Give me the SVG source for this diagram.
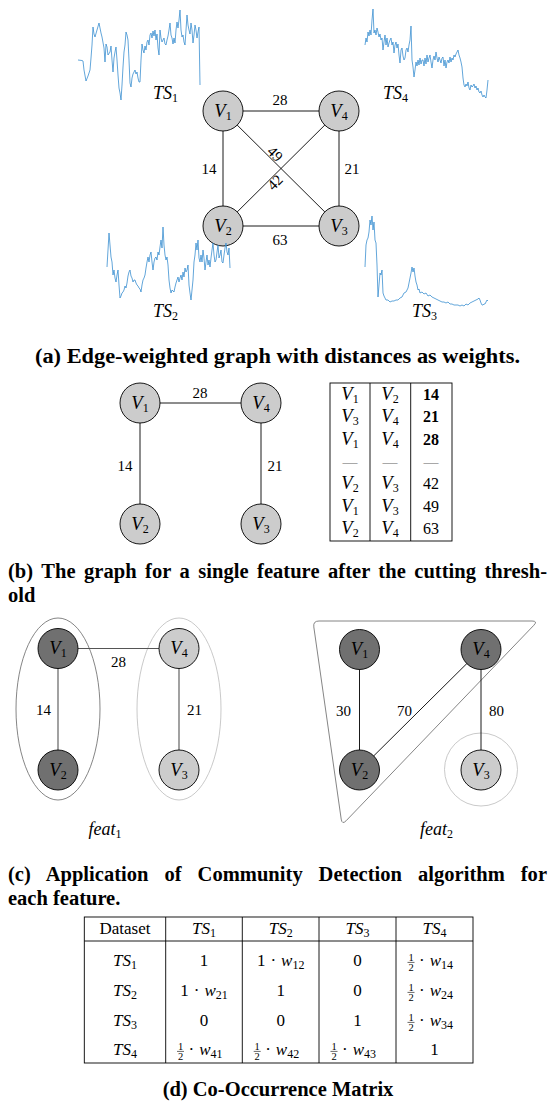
<svg xmlns="http://www.w3.org/2000/svg" width="553" height="1103" viewBox="0 0 553 1103">
<style>
.bg{fill:#fff}
.edge{stroke:#000;stroke-width:0.9;fill:none}
.gedge{stroke:#555;stroke-width:1.1;fill:none}
.node{fill:#ccc;stroke:#000;stroke-width:0.9}
.dark{fill:#707070}
.num{font-family:"Liberation Serif",serif;font-size:15px;fill:#000;text-anchor:middle}
.vl{font-family:"Liberation Serif",serif;font-size:18.5px;fill:#000;text-anchor:middle}
.it{font-style:italic}
.sub{font-size:12px;font-style:normal}
.ts{fill:none;stroke:#3b8fd0;stroke-width:0.8;stroke-linejoin:round}
.cap{font-family:"Liberation Serif",serif;font-weight:bold;font-size:20.5px;fill:#000}
.tl{stroke:#000;stroke-width:0.9;fill:none}
.td{font-family:"Liberation Serif",serif;font-size:17px;fill:#000;text-anchor:middle}
.tds{text-anchor:start}
.sb{font-size:12px;font-style:normal}
.fr{font-family:"Liberation Serif",serif;font-size:10.5px;fill:#000;text-anchor:middle}
.fl{stroke:#000;stroke-width:0.6}
.ts-lbl{font-family:"Liberation Serif",serif;font-size:18px;fill:#000;text-anchor:middle}
</style>
<rect class="bg" x="0" y="0" width="553" height="1103"/>

<!-- ===== (a) ===== -->
<g id="a-connectors">
<line class="edge" x1="223" y1="111" x2="339" y2="111"/>
<line class="edge" x1="223" y1="111" x2="223" y2="226"/>
<line class="edge" x1="339" y1="111" x2="339" y2="226"/>
<line class="edge" x1="223" y1="226" x2="339" y2="226"/>
<line class="edge" x1="223" y1="111" x2="339" y2="226"/>
<line class="edge" x1="223" y1="226" x2="339" y2="111"/>
<text class="num" x="280" y="105">28</text>
<text class="num" x="209" y="174">14</text>
<text class="num" x="352" y="174">21</text>
<text class="num" x="280" y="245">63</text>
<text class="num" transform="translate(275,154) rotate(45)" x="0" y="5">49</text>
<text class="num" transform="translate(275,182.5) rotate(-45)" x="0" y="5">42</text>
</g>
<g id="a-v1"><circle class="node" cx="223" cy="111" r="20"/><text class="vl" x="223" y="116.5"><tspan class="it">V</tspan><tspan class="sub" dy="3">1</tspan></text></g>
<g id="a-v4"><circle class="node" cx="339" cy="111" r="20"/><text class="vl" x="339" y="116.5"><tspan class="it">V</tspan><tspan class="sub" dy="3">4</tspan></text></g>
<g id="a-v2"><circle class="node" cx="223" cy="226" r="20"/><text class="vl" x="223" y="231.5"><tspan class="it">V</tspan><tspan class="sub" dy="3">2</tspan></text></g>
<g id="a-v3"><circle class="node" cx="339" cy="226" r="20"/><text class="vl" x="339" y="231.5"><tspan class="it">V</tspan><tspan class="sub" dy="3">3</tspan></text></g>

<g id="ts1">
<polyline class="ts" points="78,60 82,60.5 83,61 84,70 86,81 88,76 90,70 91,58 92,45 93,27 94,34 95,37 97,30 99,23 100,28 101,33 102,37 104,48 105,62 106,44 107,47 108,55 110,52 111,46 112,60 113,72 114,58 115,52 116,47 117,60 118,75 119,88 120,93 121,100 122,85 123,67 124,52 125,45 126,32 127,35 128,40 129,60 130,83 131,87 132,78 133,74 134,72 135,70 136,74 137,72 138,78 139,82 140,82 141,60 142,44 143,50 144,53 145,46 146,50 147,42 148,40 149,45 150,35 151,33 152,38 153,31 154,36 155,30 156,40 157,34 158,48 159,55 160,30 161,38 162,42 163,40 164,38 165,44 166,45 167,40 168,36 169,30 170,23 171,35 172,38 173,44 174,38 175,43 176,30 177,22 178,28 179,20 180,10 181,30 182,37 183,35 184,42 185,45 186,30 187,15 188,25 189,30 190,34 191,23 192,30 193,43 194,35 195,25 196,30 197,38 198,32 199,27 200,85"/>
<text class="ts-lbl" x="165.5" y="99"><tspan class="it">TS</tspan><tspan class="sub" dy="3">1</tspan></text>
</g>
<g id="ts4">
<polyline class="ts" points="365,45 366,38 367,42 368,32 369,36 370,30 371,35 372,20 373,9 374,33 375,30 376,35 377,28 378,32 379,37 380,34 381,40 382,38 383,50 384,42 385,35 386,45 387,38 388,47 389,43 390,40 391,38 392,45 393,42 394,53 395,45 396,42 397,48 398,44 399,55 400,63 401,50 402,48 403,56 404,60 405,58 406,50 407,48 408,52 409,45 410,40 411,26 412,60 413,67 414,77 415,70 416,62 417,66 418,60 419,65 420,58 421,64 422,60 423,60 424,66 425,58 426,64 427,55 428,62 429,58 430,55 431,62 432,68 433,60 434,56 435,60 436,52 437,58 438,62 439,57 440,60 441,63 442,58 443,57 444,66 445,60 446,68 447,62 448,60 449,63 450,57 451,62 452,58 453,60 454,55 455,57 456,54 457,52 458,50 459,55 460,58 461,62 462,67 463,78 464,85 465,87 466,84 467,86 468,82 469,88 470,90 471,85 472,87 473,86 474,84 475,88 476,86 477,90 478,88 479,92 480,93 481,91 482,95 483,97 484,95 485,97 486,98 487,90 488,80"/>
<text class="ts-lbl" x="395.5" y="99"><tspan class="it">TS</tspan><tspan class="sub" dy="3">4</tspan></text>
</g>
<g id="ts2">
<polyline class="ts" points="107,267 108,250 109,233 110,245 111,257 112,262 113,275 114,270 115,278 116,282 117,275 118,270 119,285 120,298 121,296 122,293 123,292 124,290 125,286 126,288 127,283 128,276 129,272 130,270 131,276 132,278 133,282 134,280 135,280 136,283 137,285 138,286 139,288 140,289 141,292 142,285 143,280 144,278 145,275 146,268 147,262 148,257 149,262 150,255 151,252 152,262 153,270 154,262 155,258 156,257 157,260 158,252 159,255 160,247 161,240 162,248 163,227 164,245 165,255 166,260 167,257 168,265 169,280 170,288 171,293 172,290 173,291 174,292 175,287 176,283 177,280 178,277 179,282 180,278 181,275 182,280 183,272 184,277 185,268 186,272 187,270 188,265 189,285 190,293 191,300 192,290 193,280 194,262 195,255 196,243 197,250 198,240 199,258 200,262 201,255 202,262 203,250 204,258 205,270 206,262 207,255 208,265 209,260 210,267 211,258 212,250 213,243 214,255 215,262 216,260 217,252 218,245 219,258 220,255 221,250 222,262 223,263 224,255 225,248 226,243 227,252 228,255 229,248 230,268"/>
<text class="ts-lbl" x="165.5" y="317"><tspan class="it">TS</tspan><tspan class="sub" dy="3">2</tspan></text>
</g>
<g id="ts3">
<polyline class="ts" points="365,267 366,245 367,240 368,238 369,232 370,220 371,225 372,216 373,230 374,222 375,240 376,243 377,265 378,297 379,285 380,273 381,275 382,270 383,293 384,296 385,298 386,300 388,300 390,302 392,301 394,301 396,300 398,300 400,298 402,297 404,293 406,292 408,288 409,283 410,278 411,273 412,267 413,272 414,268 415,276 416,282 417,285 418,290 419,289 420,293 422,292 424,294 426,293 428,296 430,295 432,297 434,298 436,299 438,300 440,301 442,302 444,302 446,303 448,302 450,304 452,304 454,305 456,305 458,305 460,306 462,305 464,306 466,304 468,305 470,303 472,302 474,301 476,300 478,299 479,298 480,300 481,303 482,305 483,305 484,304 485,304 486,302 487,300 488,301"/>
<text class="ts-lbl" x="424.5" y="317"><tspan class="it">TS</tspan><tspan class="sub" dy="3">3</tspan></text>
</g>

<text class="cap" x="35" y="363" textLength="485" lengthAdjust="spacingAndGlyphs">(a) Edge-weighted graph with distances as weights.</text>

<!-- ===== (b) ===== -->
<g id="b-connectors">
<line class="edge" x1="140" y1="403" x2="261" y2="403"/>
<line class="edge" x1="140" y1="403" x2="140" y2="524"/>
<line class="edge" x1="261" y1="403" x2="261" y2="524"/>
<text class="num" x="200" y="398">28</text>
<text class="num" x="125" y="470.5">14</text>
<text class="num" x="275" y="470.5">21</text>
</g>
<g id="b-v1"><circle class="node" cx="140" cy="403" r="20"/><text class="vl" x="140" y="408.5"><tspan class="it">V</tspan><tspan class="sub" dy="3">1</tspan></text></g>
<g id="b-v4"><circle class="node" cx="261" cy="403" r="20"/><text class="vl" x="261" y="408.5"><tspan class="it">V</tspan><tspan class="sub" dy="3">4</tspan></text></g>
<g id="b-v2"><circle class="node" cx="140" cy="524" r="20"/><text class="vl" x="140" y="529.5"><tspan class="it">V</tspan><tspan class="sub" dy="3">2</tspan></text></g>
<g id="b-v3"><circle class="node" cx="261" cy="524" r="20"/><text class="vl" x="261" y="529.5"><tspan class="it">V</tspan><tspan class="sub" dy="3">3</tspan></text></g>

<g id="b-table">
<rect class="tl" x="330" y="383" width="122" height="158"/>
<line class="tl" x1="370" y1="383" x2="370" y2="541"/>
<line class="tl" x1="410.7" y1="383" x2="410.7" y2="541"/>
<g class="vl">
<text x="350" y="400"><tspan class="it">V</tspan><tspan class="sub" dy="3">1</tspan></text>
<text x="390" y="400"><tspan class="it">V</tspan><tspan class="sub" dy="3">2</tspan></text>
<text x="350" y="422.3"><tspan class="it">V</tspan><tspan class="sub" dy="3">3</tspan></text>
<text x="390" y="422.3"><tspan class="it">V</tspan><tspan class="sub" dy="3">4</tspan></text>
<text x="350" y="444.6"><tspan class="it">V</tspan><tspan class="sub" dy="3">1</tspan></text>
<text x="390" y="444.6"><tspan class="it">V</tspan><tspan class="sub" dy="3">4</tspan></text>
<text x="350" y="489.3"><tspan class="it">V</tspan><tspan class="sub" dy="3">2</tspan></text>
<text x="390" y="489.3"><tspan class="it">V</tspan><tspan class="sub" dy="3">3</tspan></text>
<text x="350" y="511.6"><tspan class="it">V</tspan><tspan class="sub" dy="3">1</tspan></text>
<text x="390" y="511.6"><tspan class="it">V</tspan><tspan class="sub" dy="3">3</tspan></text>
<text x="350" y="534"><tspan class="it">V</tspan><tspan class="sub" dy="3">2</tspan></text>
<text x="390" y="534"><tspan class="it">V</tspan><tspan class="sub" dy="3">4</tspan></text>
</g>
<text class="num" x="431" y="400" font-weight="bold" style="font-size:16px">14</text>
<text class="num" x="431" y="422.3" font-weight="bold" style="font-size:16px">21</text>
<text class="num" x="431" y="444.6" font-weight="bold" style="font-size:16px">28</text>
<text class="num" x="350" y="467" style="fill:#666">—</text>
<text class="num" x="390" y="467" style="fill:#666">—</text>
<text class="num" x="431" y="467" style="fill:#666">—</text>
<text class="num" x="431" y="489.3" style="font-size:16px">42</text>
<text class="num" x="431" y="511.6" style="font-size:16px">49</text>
<text class="num" x="431" y="534" style="font-size:16px">63</text>
</g>

<text class="cap" x="8" y="578" word-spacing="3.3" textLength="539" lengthAdjust="spacing">(b) The graph for a single feature after the cutting thresh-</text>
<text class="cap" x="8" y="602">old</text>

<!-- ===== (c) left ===== -->
<g id="c1-communities">
<ellipse cx="58" cy="709" rx="42" ry="91" fill="none" stroke="#666" stroke-width="0.8"/>
<ellipse cx="179" cy="709" rx="42" ry="91" fill="none" stroke="#bbb" stroke-width="0.8"/>
</g>
<g id="c1-connectors">
<line class="gedge" x1="58" y1="648.5" x2="179" y2="648.5"/>
<line class="gedge" x1="58" y1="648.5" x2="58" y2="770"/>
<line class="gedge" x1="179" y1="648.5" x2="179" y2="770"/>
<text class="num" x="118.5" y="666.5">28</text>
<text class="num" x="43.5" y="715">14</text>
<text class="num" x="194.5" y="715">21</text>
</g>
<g id="c1-v1"><circle class="node dark" cx="58" cy="648.5" r="20"/><text class="vl" x="58" y="654"><tspan class="it">V</tspan><tspan class="sub" dy="3">1</tspan></text></g>
<g id="c1-v4"><circle class="node" cx="179" cy="648.5" r="20"/><text class="vl" x="179" y="654"><tspan class="it">V</tspan><tspan class="sub" dy="3">4</tspan></text></g>
<g id="c1-v2"><circle class="node dark" cx="58" cy="770" r="20"/><text class="vl" x="58" y="775.5"><tspan class="it">V</tspan><tspan class="sub" dy="3">2</tspan></text></g>
<g id="c1-v3"><circle class="node" cx="179" cy="770" r="20"/><text class="vl" x="179" y="775.5"><tspan class="it">V</tspan><tspan class="sub" dy="3">3</tspan></text></g>
<text class="ts-lbl" x="105" y="835"><tspan class="it">feat</tspan><tspan class="sub" dy="3">1</tspan></text>

<!-- ===== (c) right ===== -->
<g id="c2-communities">
<path d="M319,621 L532,621 Q538,621 533.8,625.3 L346.2,820.7 Q342,825 341.2,819.1 L313.8,626.9 Q313,621 319,621 Z" fill="none" stroke="#777" stroke-width="0.9"/>
<circle cx="481" cy="769.5" r="36.5" fill="none" stroke="#bbb" stroke-width="0.8"/>
</g>
<g id="c2-connectors">
<line class="edge" x1="359.5" y1="649.5" x2="359.5" y2="770"/>
<line class="edge" x1="359.5" y1="770" x2="481" y2="649.5"/>
<line class="edge" x1="481" y1="649.5" x2="481" y2="770"/>
<text class="num" x="343.5" y="716">30</text>
<text class="num" x="404.5" y="716">70</text>
<text class="num" x="496.5" y="716">80</text>
</g>
<g id="c2-v1"><circle class="node dark" cx="359.5" cy="649.5" r="20"/><text class="vl" x="359.5" y="655"><tspan class="it">V</tspan><tspan class="sub" dy="3">1</tspan></text></g>
<g id="c2-v4"><circle class="node dark" cx="481" cy="649.5" r="20"/><text class="vl" x="481" y="655"><tspan class="it">V</tspan><tspan class="sub" dy="3">4</tspan></text></g>
<g id="c2-v2"><circle class="node dark" cx="359.5" cy="770" r="20"/><text class="vl" x="359.5" y="775.5"><tspan class="it">V</tspan><tspan class="sub" dy="3">2</tspan></text></g>
<g id="c2-v3"><circle class="node" cx="481" cy="770" r="20"/><text class="vl" x="481" y="775.5"><tspan class="it">V</tspan><tspan class="sub" dy="3">3</tspan></text></g>
<text class="ts-lbl" x="436.5" y="835"><tspan class="it">feat</tspan><tspan class="sub" dy="3">2</tspan></text>

<text class="cap" x="8" y="881" word-spacing="10.8" textLength="539" lengthAdjust="spacing">(c) Application of Community Detection algorithm for</text>
<text class="cap" x="8" y="905">each feature.</text>

<!-- ===== (d) ===== -->
<g id="d-table">
<rect class="tl" x="84.3" y="917" width="388.7" height="146"/>
<line class="tl" x1="84.3" y1="941" x2="473" y2="941"/>
<line class="tl" x1="165.7" y1="917" x2="165.7" y2="1063"/>
<line class="tl" x1="242.3" y1="917" x2="242.3" y2="1063"/>
<line class="tl" x1="319" y1="917" x2="319" y2="1063"/>
<line class="tl" x1="396" y1="917" x2="396" y2="1063"/>
<text class="td" x="125" y="934">Dataset</text>
<text class="td" x="204" y="934"><tspan class="it">TS</tspan><tspan class="sb" dy="3">1</tspan></text>
<text class="td" x="280.7" y="934"><tspan class="it">TS</tspan><tspan class="sb" dy="3">2</tspan></text>
<text class="td" x="357.5" y="934"><tspan class="it">TS</tspan><tspan class="sb" dy="3">3</tspan></text>
<text class="td" x="434.5" y="934"><tspan class="it">TS</tspan><tspan class="sb" dy="3">4</tspan></text>

<text class="td" x="125" y="966"><tspan class="it">TS</tspan><tspan class="sb" dy="3">1</tspan></text>
<text class="td" x="125" y="996"><tspan class="it">TS</tspan><tspan class="sb" dy="3">2</tspan></text>
<text class="td" x="125" y="1026"><tspan class="it">TS</tspan><tspan class="sb" dy="3">3</tspan></text>
<text class="td" x="125" y="1055"><tspan class="it">TS</tspan><tspan class="sb" dy="3">4</tspan></text>

<text class="td" x="204" y="966">1</text>
<text class="td" x="280.7" y="966">1<tspan dx="5">·</tspan><tspan dx="5" class="it">w</tspan><tspan class="sb" dy="3">12</tspan></text>
<text class="td" x="357.5" y="966">0</text>
<g id="d-f14"><text class="fr" x="411" y="961">1</text><line class="fl" x1="407.5" y1="962.4" x2="414.5" y2="962.4"/><text class="fr" x="411" y="971">2</text><text class="td tds" x="419" y="966">·<tspan dx="5" class="it">w</tspan><tspan class="sb" dy="3">14</tspan></text></g>

<text class="td" x="204" y="996">1<tspan dx="5">·</tspan><tspan dx="5" class="it">w</tspan><tspan class="sb" dy="3">21</tspan></text>
<text class="td" x="280.7" y="996">1</text>
<text class="td" x="357.5" y="996">0</text>
<g id="d-f24"><text class="fr" x="411" y="991">1</text><line class="fl" x1="407.5" y1="992.4" x2="414.5" y2="992.4"/><text class="fr" x="411" y="1001">2</text><text class="td tds" x="419" y="996">·<tspan dx="5" class="it">w</tspan><tspan class="sb" dy="3">24</tspan></text></g>

<text class="td" x="204" y="1026">0</text>
<text class="td" x="280.7" y="1026">0</text>
<text class="td" x="357.5" y="1026">1</text>
<g id="d-f34"><text class="fr" x="411" y="1021">1</text><line class="fl" x1="407.5" y1="1022.4" x2="414.5" y2="1022.4"/><text class="fr" x="411" y="1031">2</text><text class="td tds" x="419" y="1026">·<tspan dx="5" class="it">w</tspan><tspan class="sb" dy="3">34</tspan></text></g>

<g id="d-f41"><text class="fr" x="180.5" y="1050">1</text><line class="fl" x1="177" y1="1051.4" x2="184" y2="1051.4"/><text class="fr" x="180.5" y="1060">2</text><text class="td tds" x="188.5" y="1055">·<tspan dx="5" class="it">w</tspan><tspan class="sb" dy="3">41</tspan></text></g>
<g id="d-f42"><text class="fr" x="257.2" y="1050">1</text><line class="fl" x1="253.7" y1="1051.4" x2="260.7" y2="1051.4"/><text class="fr" x="257.2" y="1060">2</text><text class="td tds" x="265.2" y="1055">·<tspan dx="5" class="it">w</tspan><tspan class="sb" dy="3">42</tspan></text></g>
<g id="d-f43"><text class="fr" x="334" y="1050">1</text><line class="fl" x1="330.5" y1="1051.4" x2="337.5" y2="1051.4"/><text class="fr" x="334" y="1060">2</text><text class="td tds" x="342" y="1055">·<tspan dx="5" class="it">w</tspan><tspan class="sb" dy="3">43</tspan></text></g>
<text class="td" x="434.5" y="1055">1</text>
</g>

<text class="cap" x="278" y="1096" text-anchor="middle">(d) Co-Occurrence Matrix</text>
</svg>
